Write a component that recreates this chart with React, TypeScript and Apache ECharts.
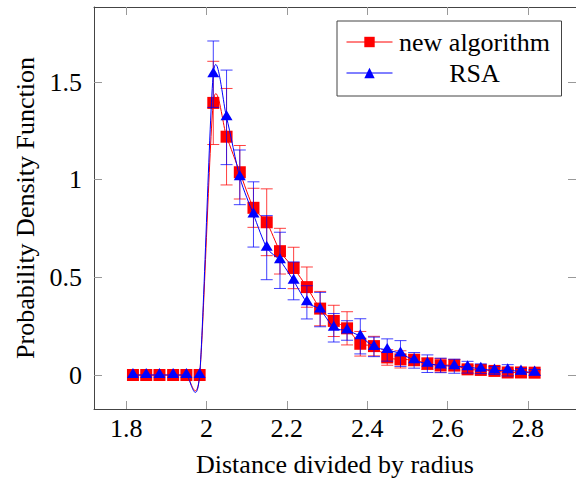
import React, { useEffect, useRef } from "react";
import * as echarts from "echarts";

const xs = [1.817, 1.85, 1.883, 1.917, 1.95, 1.983, 2.017, 2.05, 2.083, 2.117, 2.15, 2.183, 2.217, 2.25, 2.283, 2.317, 2.35, 2.383, 2.417, 2.45, 2.483, 2.517, 2.55, 2.583, 2.617, 2.65, 2.683, 2.717, 2.75, 2.783, 2.817];
const newAlg = [0, 0, 0, 0, 0, 0, 1.393, 1.22, 1.038, 0.856, 0.782, 0.634, 0.548, 0.45, 0.34, 0.277, 0.239, 0.16, 0.148, 0.09, 0.08, 0.077, 0.058, 0.05, 0.05, 0.029, 0.026, 0.021, 0.013, 0.013, 0.012];
const newAlgErr = [0, 0, 0, 0, 0, 0, 0.213, 0.247, 0.137, 0.1, 0.171, 0.117, 0.106, 0.103, 0.088, 0.08, 0.085, 0.063, 0.05, 0.04, 0.044, 0.03, 0.03, 0.035, 0.03, 0.02, 0.02, 0.015, 0.015, 0.012, 0.012];
const rsa = [0, 0, 0, 0, 0, 0, 1.54, 1.319, 1.012, 0.822, 0.652, 0.587, 0.482, 0.372, 0.335, 0.242, 0.228, 0.198, 0.144, 0.128, 0.11, 0.075, 0.058, 0.049, 0.045, 0.04, 0.032, 0.023, 0.024, 0.018, 0.013];
const rsaErr = [0, 0, 0, 0, 0, 0, 0.17, 0.242, 0.14, 0.167, 0.164, 0.144, 0.097, 0.085, 0.088, 0.073, 0.05, 0.09, 0.05, 0.057, 0.066, 0.04, 0.045, 0.037, 0.036, 0.03, 0.025, 0.02, 0.029, 0.015, 0.015];
const xTicks = [1.8, 2.0, 2.2, 2.4, 2.6, 2.8];
const yTicks = [0, 0.5, 1, 1.5];
const seriesNames = ["new algorithm", "RSA"];

const FONT = "Liberation Serif";
const TENSION = 0.13;

function errSeries(name: string, vals: number[], errs: number[], color: string, z: number) {
  return {
    type: "custom",
    name,
    z,
    data: xs.map((x, i) => [x, vals[i] - errs[i], vals[i] + errs[i]]),
    encode: { x: 0, y: [1, 2] },
    renderItem: (_p: any, api: any) => {
      const x = api.value(0);
      const lo = api.value(1);
      const hi = api.value(2);
      if (hi - lo < 1e-9) return null;
      const a = api.coord([x, hi]);
      const b = api.coord([x, lo]);
      const style = { stroke: color, lineWidth: 1, opacity: 0.75 };
      return {
        type: "group",
        children: [
          { type: "line", shape: { x1: a[0], y1: a[1], x2: b[0], y2: b[1] }, style },
          { type: "line", shape: { x1: a[0] - 6, y1: a[1], x2: a[0] + 6, y2: a[1] }, style },
          { type: "line", shape: { x1: b[0] - 6, y1: b[1], x2: b[0] + 6, y2: b[1] }, style },
        ],
      };
    },
  };
}

// smooth curve through the points (cardinal spline, like pgfplots "smooth")
function curveSeries(name: string, vals: number[], color: string, z: number) {
  return {
    type: "custom",
    name,
    z,
    data: [[xs[0], vals[0]]],
    encode: { x: 0, y: 1 },
    renderItem: (_p: any, api: any) => {
      const pts = xs.map((x, i) => api.coord([x, vals[i]]));
      const n = pts.length;
      const children: any[] = [];
      for (let i = 0; i < n - 1; i++) {
        const p0 = pts[Math.max(i - 1, 0)];
        const p1 = pts[i];
        const p2 = pts[i + 1];
        const p3 = pts[Math.min(i + 2, n - 1)];
        children.push({
          type: "bezierCurve",
          shape: {
            x1: p1[0],
            y1: p1[1],
            x2: p2[0],
            y2: p2[1],
            cpx1: p1[0] + TENSION * (p2[0] - p0[0]),
            cpy1: p1[1] + TENSION * (p2[1] - p0[1]),
            cpx2: p2[0] - TENSION * (p3[0] - p1[0]),
            cpy2: p2[1] - TENSION * (p3[1] - p1[1]),
          },
          style: { stroke: color, fill: null, lineWidth: 1 },
        });
      }
      return { type: "group", children };
    },
  };
}

export default function App() {
  const ref = useRef<HTMLDivElement>(null);
  useEffect(() => {
    if (!ref.current) return;
    const chart = echarts.init(ref.current, undefined, { renderer: "svg" });
    const axisLine = { show: true, onZero: false, lineStyle: { color: "#444", width: 1 } };
    const tickStyle = { color: "#999", width: 1 };
    chart.setOption({
      animation: false,
      backgroundColor: "#fff",
      grid: { left: 94, top: 7, right: -5, bottom: 75, containLabel: false },
      legend: {
        data: [
          { name: seriesNames[0], lineStyle: { opacity: 1, color: "#ff0000", width: 1 } },
          { name: seriesNames[1], lineStyle: { opacity: 1, color: "#0000ff", width: 1 } },
        ],
        orient: "vertical",
        left: 337,
        top: 21,
        padding: [8, 10, 10, 9],
        itemGap: 5,
        itemWidth: 46,
        itemHeight: 13,
        borderColor: "#444",
        borderWidth: 1,
        backgroundColor: "#fff",
        formatter: (name: string) => `{t|${name}}`,
        textStyle: {
          fontFamily: FONT,
          fontSize: 26,
          color: "#000",
          rich: { t: { width: 154, align: "center", fontFamily: FONT, fontSize: 26, lineHeight: 26, color: "#000" } },
        },
      },
      xAxis: [
        {
          type: "value",
          min: 1.72,
          max: 2.92,
          position: "bottom",
          name: "Distance divided by radius",
          nameLocation: "middle",
          nameGap: 42,
          nameTextStyle: { fontFamily: FONT, fontSize: 26, color: "#000" },
          axisLine,
          axisTick: { show: true, inside: true, length: 8, lineStyle: tickStyle, customValues: xTicks },
          axisLabel: { show: true, margin: 6, fontFamily: FONT, fontSize: 26, color: "#000", customValues: xTicks, formatter: (v: number) => String(Math.round(v * 10) / 10) },
          splitLine: { show: false },
        },
        {
          type: "value",
          min: 1.72,
          max: 2.92,
          position: "top",
          axisLine,
          axisTick: { show: true, inside: true, length: 8, lineStyle: tickStyle, customValues: xTicks },
          axisLabel: { show: false },
          splitLine: { show: false },
        },
      ],
      yAxis: [
        {
          type: "value",
          min: -0.174,
          max: 1.884,
          position: "left",
          name: "Probability Density Function",
          nameLocation: "middle",
          nameGap: 54,
          nameTextStyle: { fontFamily: FONT, fontSize: 26, color: "#000" },
          axisLine,
          axisTick: { show: true, inside: true, length: 8, lineStyle: tickStyle, customValues: yTicks },
          axisLabel: { show: true, margin: 12, fontFamily: FONT, fontSize: 26, color: "#000", customValues: yTicks, formatter: (v: number) => String(v) },
          splitLine: { show: false },
        },
        {
          type: "value",
          min: -0.174,
          max: 1.884,
          position: "right",
          axisLine,
          axisTick: { show: true, inside: true, length: 8, lineStyle: tickStyle, customValues: yTicks },
          axisLabel: { show: false },
          splitLine: { show: false },
        },
      ],
      series: [
        errSeries("new algorithm err", newAlg, newAlgErr, "#ff0000", 1),
        curveSeries("new algorithm curve", newAlg, "#ff0000", 2),
        {
          type: "line",
          name: "new algorithm",
          z: 3,
          data: xs.map((x, i) => [x, newAlg[i]]),
          symbol: "rect",
          symbolSize: 12,
          showAllSymbol: true,
          itemStyle: { color: "#ff0000" },
          lineStyle: { color: "#ff0000", width: 1, opacity: 0 },
        },
        errSeries("RSA err", rsa, rsaErr, "#0000ff", 4),
        curveSeries("RSA curve", rsa, "#0000ff", 5),
        {
          type: "line",
          name: "RSA",
          z: 6,
          data: xs.map((x, i) => [x, rsa[i]]),
          symbol: "triangle",
          symbolSize: [12, 10],
          symbolOffset: [0, -2],
          showAllSymbol: true,
          itemStyle: { color: "#0000ff" },
          lineStyle: { color: "#0000ff", width: 1, opacity: 0 },
        },
      ],
    });
    return () => chart.dispose();
  }, []);
  return <div ref={ref} style={{ position: "fixed", left: 0, top: 0, width: 576, height: 484 }} />;
}
